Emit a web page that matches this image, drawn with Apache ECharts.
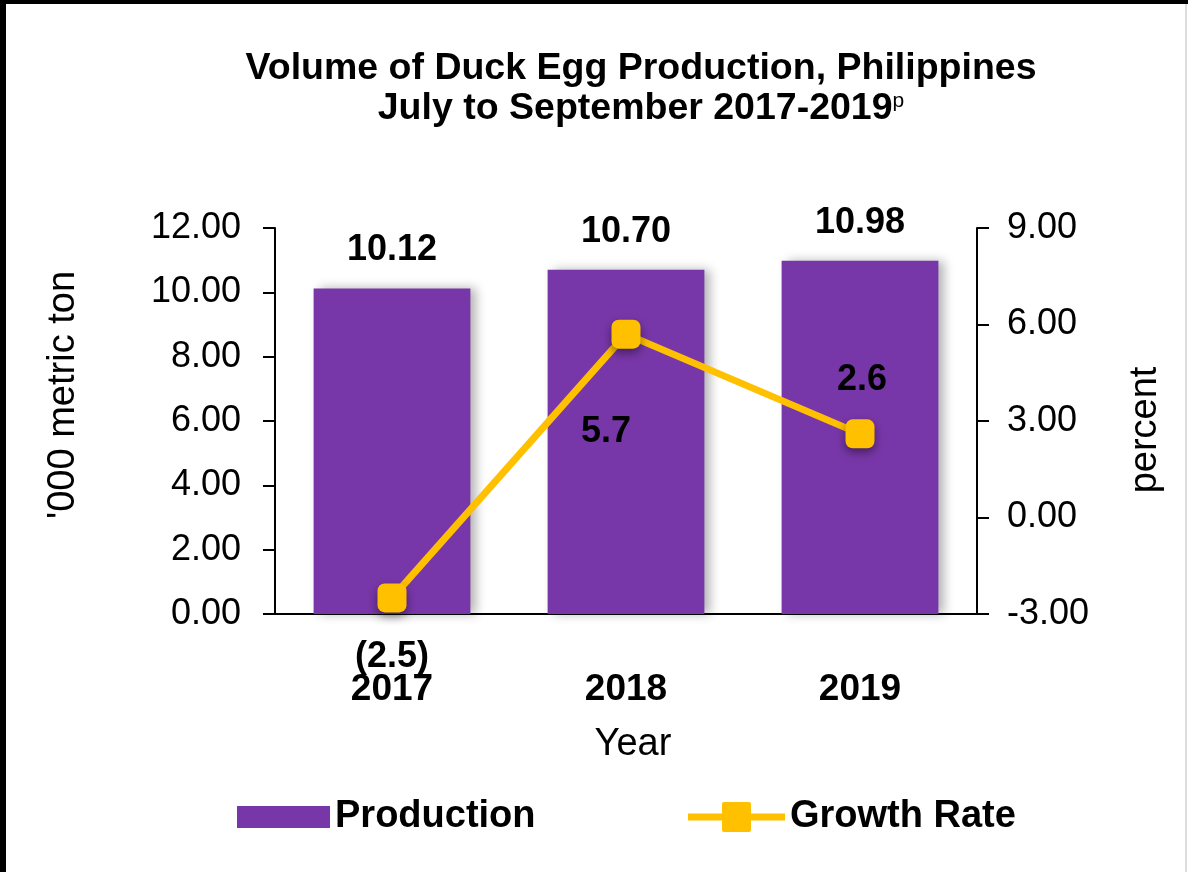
<!DOCTYPE html>
<html>
<head>
<meta charset="utf-8">
<script src="https://cdn.jsdelivr.net/npm/echarts@6/dist/echarts.min.js"></script>
<style>
  html, body { margin: 0; padding: 0; background: #fff; }
  #main { width: 1188px; height: 872px; }
</style>
</head>
<body>
<div id="main"></div>
<script>
var years = ['2017', '2018', '2019'];
var production = [10.12, 10.70, 10.98];   // '000 metric ton
var growthRate = [-2.5, 5.7, 2.6];        // percent

var FONT = '"Liberation Sans", Arial, sans-serif';
var myChart = echarts.init(document.getElementById('main'));

// label positions of the growth rate points, as in the original
var growthLabelPos = [
  { position: 'bottom', offset: [0, 22] },
  { position: 'bottom', offset: [-20, 60] },
  { position: 'top', offset: [2, -16] }
];

// legend icon: thick line with a square marker in the middle
var lineIcon = 'path://M0,11.5H34V2Q34,0 36,0H61Q63,0 63,2V11.5H97V18.5H63V28Q63,30 61,30H36Q34,30 34,28V18.5H0Z';

var option = {
  backgroundColor: '#fff',
  animation: false,
  title: {
    left: 636,
    textAlign: 'center',
    top: 44,
    text: '{a|Volume of Duck Egg Production, Philippines}\n{a|July to September 2017-2019}{p|p}',
    textStyle: {
      rich: {
        a: { fontFamily: FONT, fontWeight: 'bold', fontSize: 37.5, color: '#000', lineHeight: 40 },
        p: { fontFamily: FONT, fontWeight: 'normal', fontSize: 21, color: '#000', padding: [0, 0, 16, 0] }
      }
    }
  },
  grid: { left: 275, right: 211, top: 228, bottom: 258 },
  legend: [{
    left: 232,
    top: 793,
    icon: 'rect',
    itemWidth: 93,
    itemHeight: 22,
    textStyle: { fontFamily: FONT, fontWeight: 'bold', fontSize: 38, color: '#000' },
    data: ['Production']
  }, {
    left: 683,
    top: 793,
    icon: lineIcon,
    itemWidth: 97,
    itemHeight: 30,
    textStyle: { fontFamily: FONT, fontWeight: 'bold', fontSize: 38, color: '#000' },
    data: ['Growth Rate']
  }],
  xAxis: {
    type: 'category',
    data: years,
    name: 'Year',
    nameLocation: 'middle',
    nameGap: 112,
    nameTextStyle: { fontFamily: FONT, fontSize: 38, color: '#000', padding: [0, 0, 0, 14] },
    axisLine: { lineStyle: { color: '#000', width: 2 } },
    axisTick: { length: 12, lineStyle: { color: '#000', width: 2 } },
    axisLabel: { margin: 57, fontFamily: FONT, fontWeight: 'bold', fontSize: 37, color: '#000' }
  },
  yAxis: [{
    type: 'value',
    min: 0, max: 12, interval: 2,
    name: '\'000 metric ton',
    nameLocation: 'middle',
    nameRotate: 90,
    nameGap: 192,
    nameTextStyle: { fontFamily: FONT, fontSize: 38, color: '#000', padding: [0, 0, 0, 52] },
    axisLine: { show: true, lineStyle: { color: '#000', width: 2 } },
    axisTick: { show: true, length: 12, lineStyle: { color: '#000', width: 2 } },
    axisLabel: { margin: 34, fontFamily: FONT, fontSize: 36, color: '#000',
      formatter: function (v) { return v.toFixed(2); } },
    splitLine: { show: false }
  }, {
    type: 'value',
    position: 'right',
    min: -3, max: 9, interval: 3,
    name: 'percent',
    nameLocation: 'middle',
    nameRotate: 90,
    nameGap: 150,
    nameTextStyle: { fontFamily: FONT, fontSize: 38, color: '#000', padding: [0, 18, 0, 0] },
    axisLine: { show: true, lineStyle: { color: '#000', width: 2 } },
    axisTick: { show: true, length: 12, lineStyle: { color: '#000', width: 2 } },
    axisLabel: { margin: 30, fontFamily: FONT, fontSize: 36, color: '#000',
      formatter: function (v) { return v.toFixed(2); } },
    splitLine: { show: false }
  }],
  series: [{
    name: 'Production',
    type: 'bar',
    barCategoryGap: '33%',
    data: production,
    itemStyle: {
      color: '#7837A8',
      shadowColor: 'rgba(0,0,0,0.3)',
      shadowBlur: 10,
      shadowOffsetX: 6
    },
    label: {
      show: true,
      position: 'top',
      distance: 20,
      fontFamily: FONT,
      fontWeight: 'bold',
      fontSize: 36,
      color: '#000',
      formatter: function (p) { return p.value.toFixed(2); }
    }
  }, {
    name: 'Growth Rate',
    type: 'line',
    yAxisIndex: 1,
    data: growthRate.map(function (v, i) {
      return { value: v, label: growthLabelPos[i] };
    }),
    symbol: 'roundRect',
    symbolSize: 29,
    lineStyle: { color: '#FFC000', width: 7 },
    itemStyle: {
      color: '#FFC000',
      shadowColor: 'rgba(0,0,0,0.45)',
      shadowBlur: 10,
      shadowOffsetY: 4
    },
    label: {
      show: true,
      fontFamily: FONT,
      fontWeight: 'bold',
      fontSize: 36,
      color: '#000',
      formatter: function (p) {
        var v = p.value;
        return v < 0 ? '(' + Math.abs(v).toFixed(1) + ')' : v.toFixed(1);
      }
    }
  }],
  graphic: [
    // black frame on left and top, thin grey line on right
    { type: 'rect', shape: { x: 0, y: 0, width: 6, height: 872 }, style: { fill: '#000' }, silent: true },
    { type: 'rect', shape: { x: 0, y: 0, width: 1188, height: 4 }, style: { fill: '#000' }, silent: true },
    { type: 'rect', shape: { x: 1185, y: 4, width: 2, height: 868 }, style: { fill: '#ddd' }, silent: true }
  ]
};

myChart.setOption(option);
</script>
</body>
</html>
